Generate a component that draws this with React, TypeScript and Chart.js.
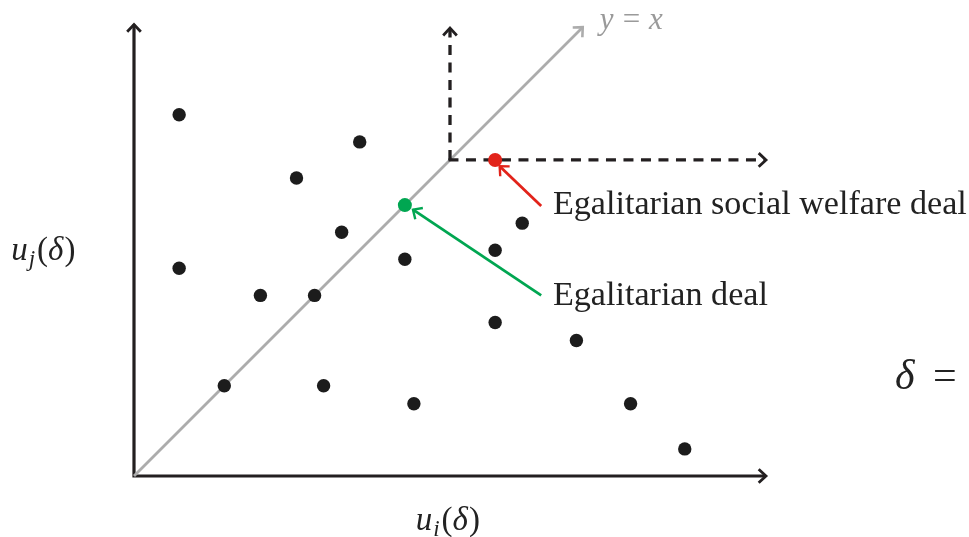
import React, { useEffect, useRef } from "react";
import { Chart, registerables } from "chart.js";

Chart.register(...registerables);

// ---- data (utility units) ----
const dealsX = [5, 25, 18, 23, 43, 40, 30, 5, 14, 20, 40, 10, 21, 31, 49, 55, 61];
const dealsY = [40, 37, 33, 27, 28, 25, 24, 23, 20, 20, 17, 10, 10, 8, 15, 8, 3];
const egalitarianDeal = [30, 30];
const egalitarianSWDeal = [40, 35];
const cornerPoint = [35, 35];
const axisMax = [70, 50];
const diagonalEnd = 49.7;
const dashedTopY = 49.6;
const labelSW = "Egalitarian social welfare deal";
const labelEg = "Egalitarian deal";
const diagLabel = ["y", "=", "x"];

const BLACK = "#231f20";
const RED = "#e2231a";
const GREEN = "#00a651";
const GREY = "#acacac";

function chevron(ctx: CanvasRenderingContext2D, x: number, y: number, ang: number, color: string, size = 10, lw = 2.8) {
  ctx.save();
  ctx.strokeStyle = color;
  ctx.lineWidth = lw;
  ctx.lineCap = "butt";
  ctx.lineJoin = "miter";
  const a1 = ang + Math.PI - 0.75;
  const a2 = ang + Math.PI + 0.75;
  ctx.beginPath();
  ctx.moveTo(x + Math.cos(a1) * size, y + Math.sin(a1) * size);
  ctx.lineTo(x, y);
  ctx.lineTo(x + Math.cos(a2) * size, y + Math.sin(a2) * size);
  ctx.stroke();
  ctx.restore();
}

const overlay = {
  id: "overlay",
  beforeDatasetsDraw(chart: any) {
    const { ctx } = chart;
    const xs = chart.scales.x;
    const ys = chart.scales.y;
    const ox = xs.getPixelForValue(0);
    const oy = ys.getPixelForValue(0);
    const xe = xs.getPixelForValue(axisMax[0]);
    const ye = ys.getPixelForValue(axisMax[1]);
    ctx.save();
    ctx.strokeStyle = BLACK;
    ctx.lineWidth = 3.2;
    ctx.beginPath();
    ctx.moveTo(ox, oy);
    ctx.lineTo(ox, ye);
    ctx.moveTo(ox - 1.6, oy);
    ctx.lineTo(xe, oy);
    ctx.stroke();
    ctx.restore();
    chevron(ctx, ox, ye, -Math.PI / 2, BLACK);
    chevron(ctx, xe, oy, 0, BLACK);
  },
  afterDatasetsDraw(chart: any) {
    const { ctx } = chart;
    const xs = chart.scales.x;
    const ys = chart.scales.y;
    const px = (v: number) => xs.getPixelForValue(v);
    const py = (v: number) => ys.getPixelForValue(v);

    // arrowheads of lines
    chevron(ctx, px(diagonalEnd), py(diagonalEnd), -Math.PI / 4, GREY, 10, 2.6);
    chevron(ctx, px(cornerPoint[0]), py(dashedTopY), -Math.PI / 2, BLACK);
    chevron(ctx, px(axisMax[0]), py(cornerPoint[1]), 0, BLACK);

    // annotation arrows
    const drawArrow = (x0: number, y0: number, x1: number, y1: number, color: string) => {
      const X0 = px(x0), Y0 = py(y0), X1 = px(x1), Y1 = py(y1);
      ctx.save();
      ctx.strokeStyle = color;
      ctx.lineWidth = 2.8;
      ctx.beginPath();
      ctx.moveTo(X0, Y0);
      ctx.lineTo(X1, Y1);
      ctx.stroke();
      ctx.restore();
      chevron(ctx, X1, Y1, Math.atan2(Y1 - Y0, X1 - X0), color, 10, 2.4);
    };
    drawArrow(45.1, 29.9, 40.5, 34.3, RED);
    drawArrow(45.1, 20.0, 30.9, 29.5, GREEN);

    // annotation texts
    ctx.save();
    ctx.fillStyle = "#222";
    ctx.textBaseline = "alphabetic";
    ctx.textAlign = "left";
    const fitFont = (text: string, width: number) => {
      ctx.font = "30px 'Liberation Serif'";
      const w = ctx.measureText(text).width;
      return Math.min(36, (30 * width) / w);
    };
    const fs = fitFont(labelSW, 414);
    ctx.font = `${fs}px 'Liberation Serif'`;
    ctx.fillText(labelSW, px(46.4), py(29.0));
    ctx.fillText(labelEg, px(46.4), py(18.9));

    // y = x label
    ctx.fillStyle = "#9a9a9a";
    let x = px(51.6);
    const yb = py(49.5);
    ctx.font = "italic 31px 'Liberation Serif'";
    ctx.fillText(diagLabel[0], x, yb);
    x += ctx.measureText(diagLabel[0]).width + 9;
    ctx.font = "31px 'Liberation Serif'";
    ctx.fillText(diagLabel[1], x, yb);
    x += ctx.measureText(diagLabel[1]).width + 9;
    ctx.font = "italic 31px 'Liberation Serif'";
    ctx.fillText(diagLabel[2], x, yb);

    // axis labels
    ctx.fillStyle = "#222";
    const mathLabel = (sx: number, sy: number, sub: string) => {
      let cx = sx;
      ctx.font = "italic 33px 'Liberation Serif'";
      ctx.fillText("u", cx, sy);
      cx += ctx.measureText("u").width + 1;
      ctx.font = "italic 23px 'Liberation Serif'";
      ctx.fillText(sub, cx, sy + 6);
      cx += ctx.measureText(sub).width + 2;
      ctx.font = "33px 'Liberation Serif'";
      ctx.fillText("(", cx, sy);
      cx += ctx.measureText("(").width;
      ctx.font = "italic 33px 'Liberation Serif'";
      ctx.fillText("δ", cx, sy);
      cx += ctx.measureText("δ").width + 1;
      ctx.font = "33px 'Liberation Serif'";
      ctx.fillText(")", cx, sy);
    };
    mathLabel(px(-13.6), py(23.9), "j");
    mathLabel(px(31.2), py(-6.0), "i");

    // δ =
    ctx.font = "italic 42px 'Liberation Serif'";
    ctx.fillText("δ", px(84.3), py(9.6));
    ctx.font = "42px 'Liberation Serif'";
    ctx.fillText("=", px(88.5), py(9.6));
    ctx.restore();
  },
};

export default function App() {
  const ref = useRef<HTMLCanvasElement | null>(null);
  useEffect(() => {
    if (!ref.current) return;
    const chart = new Chart(ref.current, {
      type: "scatter",
      data: {
        datasets: [
          {
            label: "Egalitarian social welfare deal",
            data: [{ x: egalitarianSWDeal[0], y: egalitarianSWDeal[1] }],
            backgroundColor: RED,
            borderWidth: 0,
            pointRadius: 7,
            order: 0,
          },
          {
            label: "Egalitarian deal",
            data: [{ x: egalitarianDeal[0], y: egalitarianDeal[1] }],
            backgroundColor: GREEN,
            borderWidth: 0,
            pointRadius: 7,
            order: 0,
          },
          {
            label: "Deals",
            data: dealsX.map((v, i) => ({ x: v, y: dealsY[i] })),
            backgroundColor: "#1c1c1c",
            borderWidth: 0,
            pointRadius: 6.7,
            order: 1,
          },
          {
            label: "dashed-v",
            type: "line",
            data: [
              { x: cornerPoint[0], y: cornerPoint[1] },
              { x: cornerPoint[0], y: dashedTopY },
            ],
            borderColor: BLACK,
            borderWidth: 3.3,
            borderDash: [10, 7.5],
            pointRadius: 0,
            fill: false,
            order: 2,
          } as any,
          {
            label: "dashed-h",
            type: "line",
            data: [
              { x: cornerPoint[0] - 0.17, y: cornerPoint[1] },
              { x: axisMax[0], y: cornerPoint[1] },
            ],
            borderColor: BLACK,
            borderWidth: 3.3,
            borderDash: [10, 7.5],
            pointRadius: 0,
            fill: false,
            order: 2,
          } as any,
          {
            label: "y = x",
            type: "line",
            data: [
              { x: 0, y: 0 },
              { x: diagonalEnd, y: diagonalEnd },
            ],
            borderColor: GREY,
            borderWidth: 2.8,
            pointRadius: 0,
            fill: false,
            order: 3,
          } as any,
        ],
      },
      options: {
        animation: false,
        responsive: false,
        layout: { padding: { left: 134, right: 203, top: 24.5, bottom: 61 } },
        scales: {
          x: { type: "linear", min: 0, max: axisMax[0], display: false },
          y: { type: "linear", min: 0, max: axisMax[1], display: false },
        },
        plugins: { legend: { display: false }, tooltip: { enabled: false } },
        clip: false as any,
      },
      plugins: [overlay],
    });
    return () => chart.destroy();
  }, []);
  return (
    <div style={{ position: "absolute", left: 0, top: 0, width: 969, height: 537, background: "#fff" }}>
      <canvas ref={ref} width={969} height={537} style={{ display: "block" }} />
    </div>
  );
}
